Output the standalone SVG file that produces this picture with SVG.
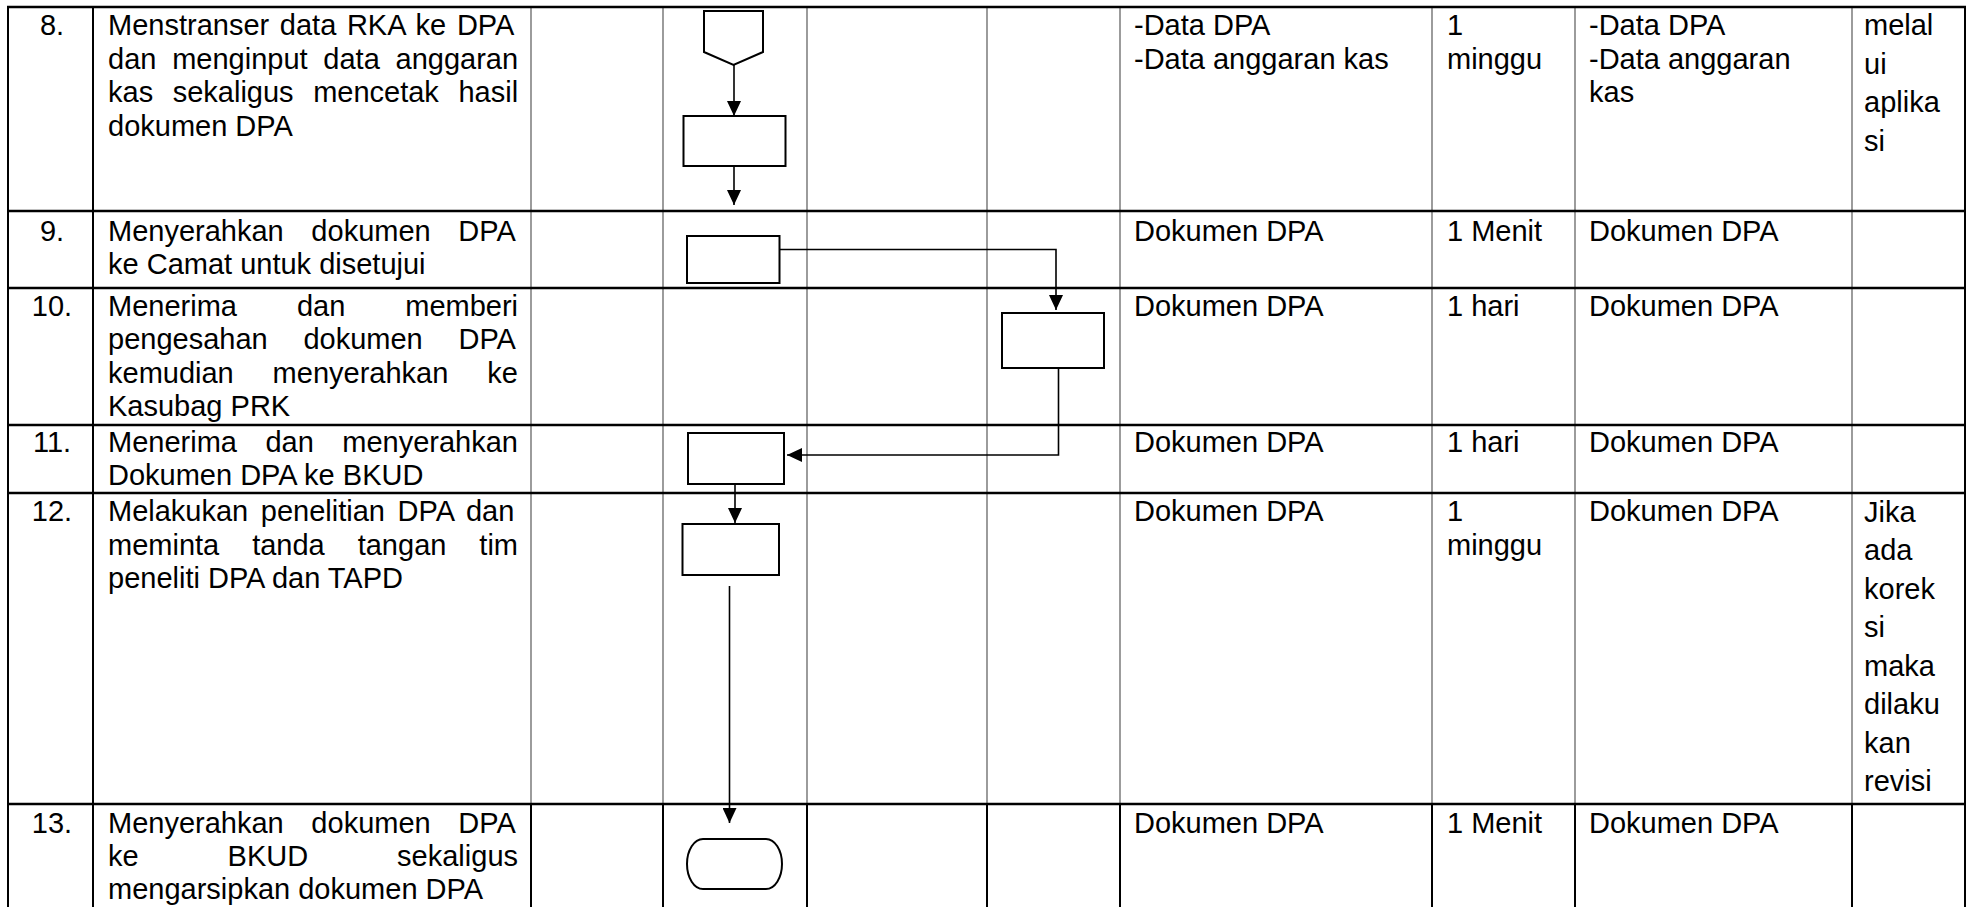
<svg xmlns="http://www.w3.org/2000/svg" width="1973" height="907" viewBox="0 0 1973 907">
<style>
  .t { font-family: "Liberation Sans", Arial, sans-serif; font-size: 29px; fill: #000; }
  .num { text-anchor: middle; }
  .hl { stroke: #000; stroke-width: 2.5; fill: none; }
  .vb { stroke: #000; stroke-width: 2; fill: none; }
  .vg { stroke: #666; stroke-width: 1.3; fill: none; }
  .shape { fill: #fff; stroke: #000; stroke-width: 2; }
  .conn { fill: none; stroke: #000; stroke-width: 1.6; }
</style>
<defs>
  <marker id="ah" markerUnits="userSpaceOnUse" markerWidth="16" markerHeight="14" refX="15" refY="7" orient="auto">
    <path d="M0,0 L15,7 L0,14 z" fill="#000"/>
  </marker>
</defs>
<rect x="0" y="0" width="1973" height="907" fill="#fff"/>

<g id="grid">
  <line class="vg" x1="531" y1="7" x2="531" y2="804"/>
  <line class="vg" x1="663" y1="7" x2="663" y2="804"/>
  <line class="vg" x1="807" y1="7" x2="807" y2="804"/>
  <line class="vg" x1="987" y1="7" x2="987" y2="804"/>
  <line class="vg" x1="1120" y1="7" x2="1120" y2="804"/>
  <line class="vg" x1="1432" y1="7" x2="1432" y2="804"/>
  <line class="vg" x1="1575" y1="7" x2="1575" y2="804"/>
  <line class="vg" x1="1852" y1="7" x2="1852" y2="804"/>
  <line class="vb" x1="531" y1="804" x2="531" y2="907"/>
  <line class="vb" x1="663" y1="804" x2="663" y2="907"/>
  <line class="vb" x1="807" y1="804" x2="807" y2="907"/>
  <line class="vb" x1="987" y1="804" x2="987" y2="907"/>
  <line class="vb" x1="1120" y1="804" x2="1120" y2="907"/>
  <line class="vb" x1="1432" y1="804" x2="1432" y2="907"/>
  <line class="vb" x1="1575" y1="804" x2="1575" y2="907"/>
  <line class="vb" x1="1852" y1="804" x2="1852" y2="907"/>
  <line class="vb" x1="8" y1="7" x2="8" y2="907"/>
  <line class="vb" x1="93" y1="7" x2="93" y2="907"/>
  <line class="vb" x1="1965" y1="7" x2="1965" y2="907"/>
  <line class="hl" x1="7" y1="7" x2="1966" y2="7"/>
  <line class="hl" x1="7" y1="211" x2="1966" y2="211"/>
  <line class="hl" x1="7" y1="288" x2="1966" y2="288"/>
  <line class="hl" x1="7" y1="425" x2="1966" y2="425"/>
  <line class="hl" x1="7" y1="493" x2="1966" y2="493"/>
  <line class="hl" x1="7" y1="804" x2="1966" y2="804"/>
</g>

<g id="connectors">
  <line class="conn" x1="734" y1="65" x2="734" y2="116" marker-end="url(#ah)"/>
  <line class="conn" x1="734" y1="166" x2="734" y2="205" marker-end="url(#ah)"/>
  <polyline class="conn" points="780,249.5 1056,249.5 1056,310" marker-end="url(#ah)"/>
  <polyline class="conn" points="1058.5,368 1058.5,455 787,455" marker-end="url(#ah)"/>
  <line class="conn" x1="735" y1="484" x2="735" y2="523" marker-end="url(#ah)"/>
  <line class="conn" x1="729.5" y1="586" x2="729.5" y2="823" marker-end="url(#ah)"/>
</g>

<g id="node-8a"><polygon class="shape" points="704,11 763,11 763,52 733.5,65 704,52"/></g>
<g id="node-8b"><rect class="shape" x="683.5" y="116" width="102" height="50"/></g>
<g id="node-9"><rect class="shape" x="687" y="236" width="92.5" height="47"/></g>
<g id="node-10"><rect class="shape" x="1002" y="313" width="102" height="55"/></g>
<g id="node-11"><rect class="shape" x="688" y="433" width="96" height="51"/></g>
<g id="node-12"><rect class="shape" x="682.5" y="524" width="96.5" height="51"/></g>
<g id="node-13"><rect class="shape" x="687" y="839" width="95" height="50" rx="16" ry="25"/></g>

<g id="row-8">
  <text class="t num" x="52" y="35">8.</text>
  <text class="t" x="108" y="35" style="word-spacing:2.6px">Menstranser data RKA ke DPA</text>
  <text class="t" x="108" y="68.5" style="word-spacing:7.7px">dan menginput data anggaran</text>
  <text class="t" x="108" y="102" style="word-spacing:11.5px">kas sekaligus mencetak hasil</text>
  <text class="t" x="108" y="135.5">dokumen DPA</text>
  <text class="t" x="1134" y="35">-Data DPA</text>
  <text class="t" x="1134" y="68.5">-Data anggaran kas</text>
  <text class="t" x="1447" y="35">1</text>
  <text class="t" x="1447" y="68.5">minggu</text>
  <text class="t" x="1589" y="35">-Data DPA</text>
  <text class="t" x="1589" y="68.5">-Data anggaran</text>
  <text class="t" x="1589" y="102">kas</text>
  <text class="t" x="1864" y="35">melal</text>
  <text class="t" x="1864" y="73.5">ui</text>
  <text class="t" x="1864" y="112">aplika</text>
  <text class="t" x="1864" y="150.5">si</text>
</g>

<g id="row-9">
  <text class="t num" x="52" y="240.5">9.</text>
  <text class="t" x="108" y="240.5" style="word-spacing:19.6px">Menyerahkan dokumen DPA</text>
  <text class="t" x="108" y="273.5">ke Camat untuk disetujui</text>
  <text class="t" x="1134" y="240.5">Dokumen DPA</text>
  <text class="t" x="1447" y="240.5">1 Menit</text>
  <text class="t" x="1589" y="240.5">Dokumen DPA</text>
</g>

<g id="row-10">
  <text class="t num" x="52" y="315.5">10.</text>
  <text class="t" x="108" y="315.5" style="word-spacing:51.9px">Menerima dan memberi</text>
  <text class="t" x="108" y="349" style="word-spacing:27.7px">pengesahan dokumen DPA</text>
  <text class="t" x="108" y="382.5" style="word-spacing:30.8px">kemudian menyerahkan ke</text>
  <text class="t" x="108" y="416">Kasubag PRK</text>
  <text class="t" x="1134" y="315.5">Dokumen DPA</text>
  <text class="t" x="1447" y="315.5">1 hari</text>
  <text class="t" x="1589" y="315.5">Dokumen DPA</text>
</g>

<g id="row-11">
  <text class="t num" x="52" y="452">11.</text>
  <text class="t" x="108" y="452" style="word-spacing:20.4px">Menerima dan menyerahkan</text>
  <text class="t" x="108" y="485">Dokumen DPA ke BKUD</text>
  <text class="t" x="1134" y="452">Dokumen DPA</text>
  <text class="t" x="1447" y="452">1 hari</text>
  <text class="t" x="1589" y="452">Dokumen DPA</text>
</g>

<g id="row-12">
  <text class="t num" x="52" y="521">12.</text>
  <text class="t" x="108" y="521" style="word-spacing:4.5px">Melakukan penelitian DPA dan</text>
  <text class="t" x="108" y="554.5" style="word-spacing:24.9px">meminta tanda tangan tim</text>
  <text class="t" x="108" y="588">peneliti DPA dan TAPD</text>
  <text class="t" x="1134" y="521">Dokumen DPA</text>
  <text class="t" x="1447" y="521">1</text>
  <text class="t" x="1447" y="554.5">minggu</text>
  <text class="t" x="1589" y="521">Dokumen DPA</text>
  <text class="t" x="1864" y="521.5">Jika</text>
  <text class="t" x="1864" y="560">ada</text>
  <text class="t" x="1864" y="598.5">korek</text>
  <text class="t" x="1864" y="637">si</text>
  <text class="t" x="1864" y="675.5">maka</text>
  <text class="t" x="1864" y="714">dilaku</text>
  <text class="t" x="1864" y="752.5">kan</text>
  <text class="t" x="1864" y="791">revisi</text>
</g>

<g id="row-13">
  <text class="t num" x="52" y="833">13.</text>
  <text class="t" x="108" y="833" style="word-spacing:19.6px">Menyerahkan dokumen DPA</text>
  <text class="t" x="108" y="866" style="word-spacing:80.9px">ke BKUD sekaligus</text>
  <text class="t" x="108" y="899">mengarsipkan dokumen DPA</text>
  <text class="t" x="1134" y="833">Dokumen DPA</text>
  <text class="t" x="1447" y="833">1 Menit</text>
  <text class="t" x="1589" y="833">Dokumen DPA</text>
</g>
</svg>
